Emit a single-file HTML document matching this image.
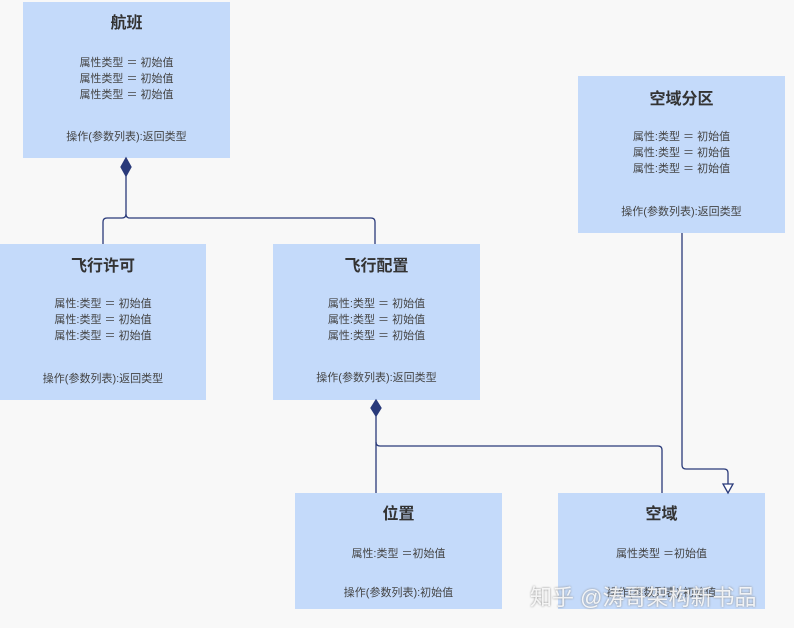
<!DOCTYPE html>
<html><head><meta charset="utf-8"><style>
body{margin:0;width:794px;height:628px;background:#f8f8f8;position:relative;overflow:hidden;font-family:"Liberation Sans","Noto Sans CJK SC",sans-serif;}
.b{position:absolute;background:#c4dafa;color:#444;text-align:center;font-size:11px;}
.t{position:absolute;left:0;right:0;font-size:16px;font-weight:bold;color:#333;}
.a{position:absolute;left:0;right:0;line-height:16px;}
svg{position:absolute;left:0;top:0;}
</style></head><body>
<div class="b" style="left:23px;top:2px;width:207px;height:156px"><div class="t" style="top:7px">航班</div><div class="a" style="top:53px">属性类型 ＝ 初始值<br>属性类型 ＝ 初始值<br>属性类型 ＝ 初始值</div><div class="a" style="top:127px">操作(参数列表):返回类型</div></div>
<div class="b" style="left:0;top:244px;width:206px;height:156px"><div class="t" style="top:8px">飞行许可</div><div class="a" style="top:52px">属性:类型 ＝ 初始值<br>属性:类型 ＝ 初始值<br>属性:类型 ＝ 初始值</div><div class="a" style="top:127px">操作(参数列表):返回类型</div></div>
<div class="b" style="left:273px;top:244px;width:207px;height:156px"><div class="t" style="top:8px">飞行配置</div><div class="a" style="top:52px">属性:类型 ＝ 初始值<br>属性:类型 ＝ 初始值<br>属性:类型 ＝ 初始值</div><div class="a" style="top:126px">操作(参数列表):返回类型</div></div>
<div class="b" style="left:578px;top:76px;width:207px;height:157px"><div class="t" style="top:9px">空域分区</div><div class="a" style="top:53px">属性:类型 ＝ 初始值<br>属性:类型 ＝ 初始值<br>属性:类型 ＝ 初始值</div><div class="a" style="top:128px">操作(参数列表):返回类型</div></div>
<div class="b" style="left:295px;top:493px;width:207px;height:116px"><div class="t" style="top:7px">位置</div><div class="a" style="top:53px">属性:类型 ＝初始值</div><div class="a" style="top:92px">操作(参数列表):初始值</div></div>
<div class="b" style="left:558px;top:493px;width:207px;height:116px"><div class="t" style="top:7px">空域</div><div class="a" style="top:53px">属性类型 ＝初始值</div><div class="a" style="top:92px">操作(参数列表):初始值</div></div>
<svg width="794" height="628" fill="none" stroke="#2a3a7a" stroke-width="1.3">
<path d="M126 176V214q0 4 -4 4H107q-4 0 -4 4V244" />
<path d="M126 214q0 4 4 4H371q4 0 4 4V244"/>
<polygon points="126,158 131,167 126,176 121,167" fill="#2a3a7a"/>
<path d="M376 416V493"/>
<path d="M376 442q0 4 4 4H658q4 0 4 4V493"/>
<polygon points="376,400 381,408 376,416 371,408" fill="#2a3a7a"/>
<path d="M682 233V465q0 4 4 4H724q4 0 4 4V484"/>
<polygon points="723,484 733,484 728,493" fill="#fff"/>
</svg>
<div style="position:absolute;left:530px;top:580px;font-size:22px;color:rgba(255,255,255,0.85);text-shadow:0 0 2px #888">知乎 @涛哥架构新书品</div>
</body></html>
